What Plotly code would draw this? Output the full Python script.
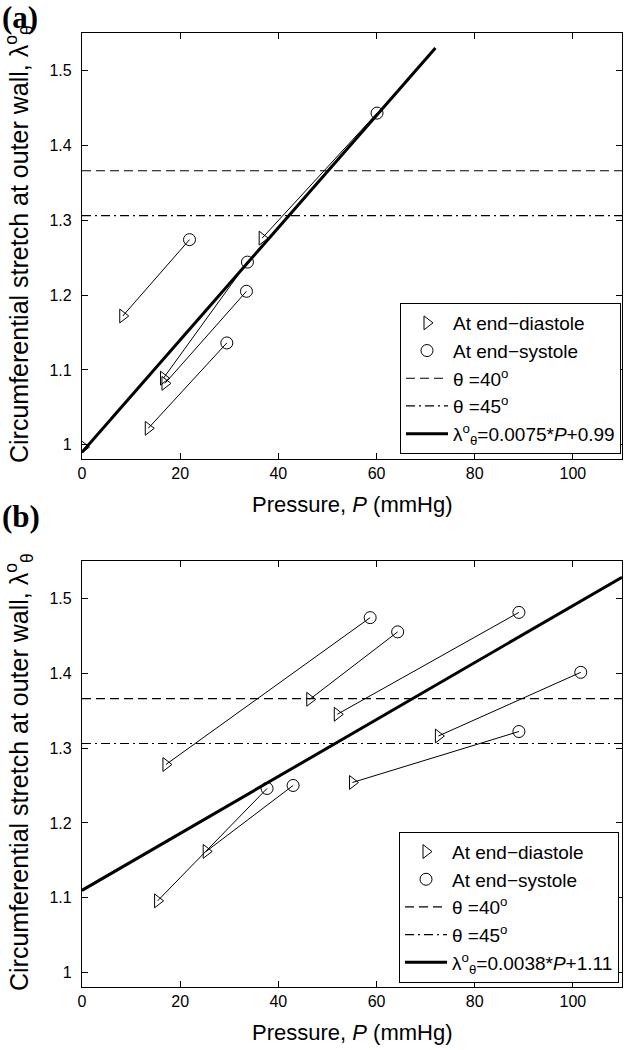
import plotly.graph_objects as go

# ---------------- data ----------------
# Panel (a)
dia_P_a = [8.3, 36.7, 16.6, 16.9, 13.5]
dia_L_a = [1.172, 1.276, 1.089, 1.082, 1.022]
sys_P_a = [21.9, 60.1, 33.7, 33.5, 29.5]
sys_L_a = [1.274, 1.443, 1.244, 1.205, 1.136]
extra_dia_P_a = [0.3]
extra_dia_L_a = [0.997]
fit_a = [0.0075, 0.99]          # slope, intercept
fit_P_a = [0, 72]

# Panel (b)
dia_P_b = [17.1, 46.4, 52.0, 72.6, 55.1, 15.4, 25.3]
dia_L_b = [1.278, 1.365, 1.345, 1.316, 1.254, 1.096, 1.162]
sys_P_b = [58.7, 64.3, 89.0, 101.6, 89.0, 37.7, 43.0]
sys_L_b = [1.474, 1.455, 1.481, 1.401, 1.322, 1.246, 1.250]
fit_b = [0.0038, 1.11]
fit_P_b = [0, 110]

theta40 = 1.366
theta45 = 1.306
x_range = [0, 110]
y_range = [0.981, 1.55]
x_ticks = [0, 20, 40, 60, 80, 100]
y_ticks = [1, 1.1, 1.2, 1.3, 1.4, 1.5]

FONT = "Liberation Sans, Arial, Helvetica, sans-serif"
SERIF = "Liberation Serif, Times New Roman, serif"

W, H = 625, 1050
ML, MR, MT, MB = 82, 3, 33, 63
W_plot = W - ML - MR
H_plot = H - MT - MB


def px_x(x):
    return (x - ML) / W_plot


def px_y(y):
    return (H - MB - y) / H_plot


fig = go.Figure()


def pair_lines(dP, dL, sP, sL):
    xs, ys = [], []
    for a, b, c, d in zip(dP, dL, sP, sL):
        xs += [a, c, None]
        ys += [b, d, None]
    return xs, ys


def add_panel(xa, ya, leg, dP, dL, sP, sL, fit, fitP, fit_label, extraP=None, extraL=None):
    xs, ys = pair_lines(dP, dL, sP, sL)
    fig.add_trace(go.Scatter(x=xs, y=ys, mode="lines", line=dict(color="black", width=1),
                             showlegend=False, xaxis=xa, yaxis=ya, hoverinfo="skip"))
    dPx = list(dP) + (extraP or [])
    dLx = list(dL) + (extraL or [])
    fig.add_trace(go.Scatter(x=dPx, y=dLx, mode="markers", name="At end\u2212diastole",
                             legendgroup=leg + "g1",
                             marker=dict(symbol="triangle-right-open", size=12, color="black",
                                         line=dict(width=1)),
                             xaxis=xa, yaxis=ya, legend=leg))
    fig.add_trace(go.Scatter(x=sP, y=sL, mode="markers", name="At end\u2212systole",
                             legendgroup=leg + "g2",
                             marker=dict(symbol="circle-open", size=12, color="black",
                                         line=dict(width=1)),
                             xaxis=xa, yaxis=ya, legend=leg))
    fig.add_trace(go.Scatter(x=x_range, y=[theta40, theta40], mode="lines",
                             name="\u03b8 =40<sup>o</sup>", legendgroup=leg + "g3",
                             line=dict(color="black", width=1.2, dash="9px,5px"),
                             xaxis=xa, yaxis=ya, legend=leg))
    fig.add_trace(go.Scatter(x=x_range, y=[theta45, theta45], mode="lines",
                             name="\u03b8 =45<sup>o</sup>", legendgroup=leg + "g4",
                             line=dict(color="black", width=1.2, dash="9px,4px,2px,4px"),
                             xaxis=xa, yaxis=ya, legend=leg))
    fy = [fit[0] * p + fit[1] for p in fitP]
    fig.add_trace(go.Scatter(x=fitP, y=fy, mode="lines", name=fit_label,
                             legendgroup=leg + "g5",
                             line=dict(color="black", width=3),
                             xaxis=xa, yaxis=ya, legend=leg))


add_panel("x", "y", "legend", dia_P_a, dia_L_a, sys_P_a, sys_L_a, fit_a, fit_P_a,
          "\u03bb<sup>o</sup><sub>\u03b8</sub>=0.0075*<i>P</i>+0.99",
          extra_dia_P_a, extra_dia_L_a)
add_panel("x2", "y2", "legend2", dia_P_b, dia_L_b, sys_P_b, sys_L_b, fit_b, fit_P_b,
          "\u03bb<sup>o</sup><sub>\u03b8</sub>=0.0038*<i>P</i>+1.11")

axis_common = dict(showline=True, linecolor="black", linewidth=1.3, mirror="ticks",
                   ticks="inside", ticklen=6, tickcolor="black", tickwidth=1,
                   showgrid=False, zeroline=False, automargin=False,
                   tickfont=dict(family=FONT, size=16, color="black"))

leg_common = dict(bgcolor="white", bordercolor="black", borderwidth=1,
                  font=dict(family=FONT, size=19, color="black"),
                  xanchor="right", yanchor="bottom", tracegroupgap=0, itemwidth=42)

fig.update_layout(
    template="none",
    width=W, height=H,
    margin=dict(l=ML, r=MR, t=MT, b=MB, autoexpand=False),
    paper_bgcolor="white", plot_bgcolor="white",
    xaxis=dict(domain=[0, 1], range=x_range, tickvals=x_ticks, anchor="y", **axis_common),
    yaxis=dict(domain=[px_y(459), 1], range=y_range, tickvals=y_ticks, anchor="x",
               ticklabelstandoff=6, **axis_common),
    xaxis2=dict(domain=[0, 1], range=x_range, tickvals=x_ticks, anchor="y2", **axis_common),
    yaxis2=dict(domain=[0, px_y(560.7)], range=y_range, tickvals=y_ticks, anchor="x2",
                ticklabelstandoff=6, **axis_common),
    legend=dict(x=px_x(621), y=px_y(454), **leg_common),
    legend2=dict(x=px_x(619), y=px_y(982.7), **leg_common),
    showlegend=True,
)

ytitle = "Circumferential stretch at outer wall, \u03bb<sup>o</sup><sub>\u03b8</sub>"
xtitle = "Pressure, <i>P</i> (mmHg)"
for ycen in [244, 772]:
    fig.add_annotation(text=ytitle, xref="paper", yref="paper", x=px_x(19), y=px_y(ycen),
                       xanchor="center", yanchor="middle", textangle=-90, showarrow=False,
                       font=dict(family=FONT, size=25, color="black"))
for ycen in [504, 1032]:
    fig.add_annotation(text=xtitle, xref="paper", yref="paper", x=px_x(352), y=px_y(ycen),
                       xanchor="center", yanchor="middle", showarrow=False,
                       font=dict(family=FONT, size=22, color="black"))
for lab, ypx in [("(a)", 18), ("(b)", 516)]:
    fig.add_annotation(text="<b>" + lab + "</b>", xref="paper", yref="paper",
                       x=px_x(0), y=px_y(ypx), xanchor="left", yanchor="middle", showarrow=False,
                       font=dict(family=SERIF, size=31, color="black"))

fig.write_html("out.html", config={"displayModeBar": False},
               post_script="document.body.style.margin='0px';document.body.style.overflow='hidden';")
